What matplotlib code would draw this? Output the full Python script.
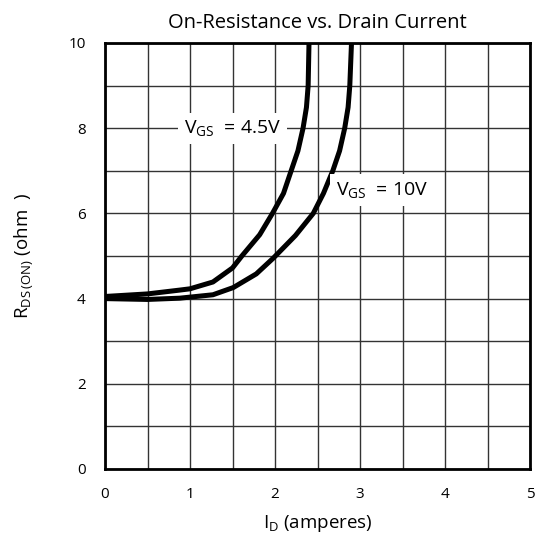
import numpy as np
import matplotlib
matplotlib.use("Agg")
import matplotlib.pyplot as plt

plt.rcParams["font.family"] = ["Open Sans", "DejaVu Sans"]
plt.rcParams["mathtext.fontset"] = "custom"
plt.rcParams["mathtext.rm"] = "Open Sans"
plt.rcParams["mathtext.it"] = "Open Sans"

# curves
id_45 = [0.0, 0.5, 0.88, 1.0, 1.27, 1.5, 1.61, 1.82, 1.97, 2.10, 2.19, 2.27, 2.33, 2.37, 2.39, 2.40]
r_45 = [4.05, 4.11, 4.20, 4.23, 4.39, 4.72, 5.0, 5.5, 6.0, 6.47, 7.0, 7.47, 8.0, 8.49, 9.0, 10.0]

id_10 = [0.0, 0.5, 0.88, 1.27, 1.51, 1.78, 1.98, 2.24, 2.45, 2.57, 2.68, 2.76, 2.82, 2.86, 2.88, 2.90]
r_10 = [4.0, 3.98, 4.01, 4.09, 4.26, 4.58, 4.95, 5.48, 6.0, 6.47, 7.0, 7.47, 8.0, 8.49, 9.0, 10.0]

x_ticks = [0, 1, 2, 3, 4, 5]
y_ticks = [0, 2, 4, 6, 8, 10]

fig = plt.figure(figsize=(5.35, 5.41), dpi=100)
ax = fig.add_axes([105 / 535, 72 / 541, 425 / 535, 426 / 541])

ax.set_xlim(0, 5)
ax.set_ylim(0, 10)
ax.set_xticks(x_ticks)
ax.set_yticks(y_ticks)
ax.set_xticks(np.arange(0.5, 5, 1.0), minor=True)
ax.set_yticks(np.arange(1, 10, 2), minor=True)
ax.grid(which="both", color="#333333", linewidth=1.0)
ax.tick_params(which="both", length=0, labelsize=11)
ax.tick_params(axis="x", pad=13)
ax.tick_params(axis="y", pad=14)
ax.set_axisbelow(True)
for s in ax.spines.values():
    s.set_linewidth(2.0)

ax.plot(id_45, r_45, color="black", linewidth=3.6, solid_capstyle="butt",
        solid_joinstyle="round", zorder=3)
ax.plot(id_10, r_10, color="black", linewidth=3.6, solid_capstyle="butt",
        solid_joinstyle="round", zorder=3)

box = dict(facecolor="white", edgecolor="none", pad=4)
ax.text(1.5, 8.0, r"V$_{\rm GS}$  = 4.5V", fontsize=14, ha="center", va="center",
        bbox=box, zorder=4)
ax.text(3.26, 6.55, r"V$_{\rm GS}$  = 10V", fontsize=14, ha="center", va="center",
        bbox=box, zorder=4)

ax.set_title("On-Resistance vs. Drain Current", fontsize=14.5, pad=11)
ax.set_xlabel(r"I$_{\rm D}$ (amperes)", fontsize=13.5, labelpad=8)
ax.set_ylabel(r"R$_{\rm DS\,(ON)}$ (ohm  )", fontsize=13.5, labelpad=24)

fig.savefig("out.png", dpi=100)
